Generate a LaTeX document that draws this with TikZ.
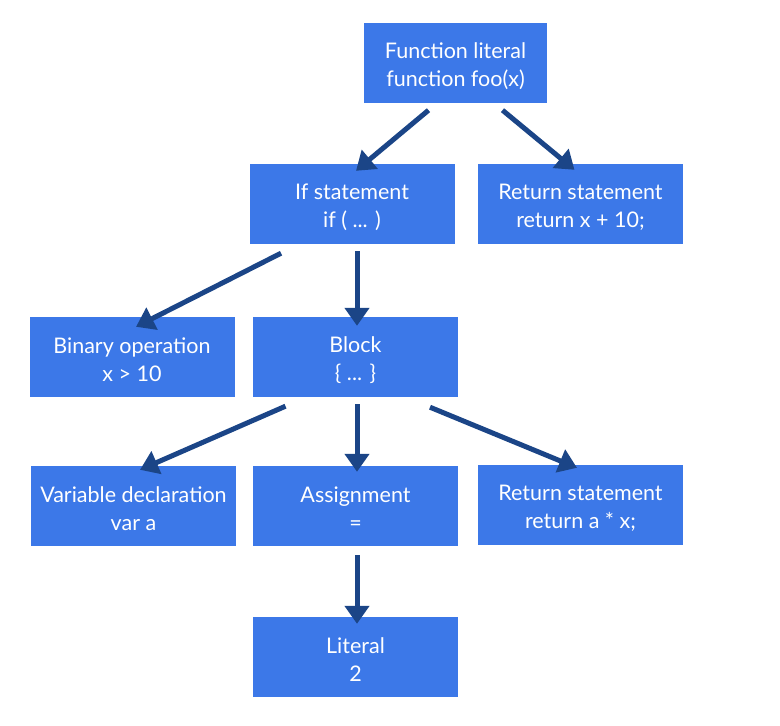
\documentclass[tikz,border=0pt]{standalone}
\usepackage{fontspec}
\setmainfont{Lato}
\usetikzlibrary{arrows.meta}
\definecolor{boxblue}{HTML}{3C78E8}
\definecolor{arrblue}{HTML}{1B4587}
\begin{document}
\begin{tikzpicture}[x=1pt,y=-1pt,
  box/.style={fill=boxblue,draw=none,minimum width=205pt,minimum height=80pt,inner sep=0pt},
  lbl/.style={text=white,align=center,inner sep=0pt,font=\fontsize{21.5}{28}\selectfont},
  arr/.style={draw=arrblue,line width=5pt,-{Triangle[width=24pt,length=18pt]}}]
\useasboundingbox (0,0) rectangle (780,726);
\newcommand\mybox[5]{%
  \node[box,minimum width=#3pt] (#1) at #2 {};
  \node[lbl] (#1-text) at ([yshift=-3pt]#1.center) {#4\\#5};}
\mybox{fn}{(455.5,63)}{183}{Function literal}{function foo(x)}
\mybox{if}{(352,204)}{205}{If statement}{if ( ... )}
\mybox{ret1}{(580.5,204)}{205}{Return statement}{return x + 10;}
\mybox{bin}{(132,357)}{205}{Binary operation}{x > 10}
\mybox{blk}{(355.5,357)}{205}{Block}{\{ ... \}}
\mybox{var}{(133.5,506)}{205}{Variable declaration}{var a}
\mybox{asg}{(355.5,506)}{205}{Assignment}{=}
\mybox{ret2}{(580.5,505)}{205}{Return statement}{return a * x;}
\mybox{lit}{(355.5,657)}{205}{Literal}{2}
\draw[arr] ([xshift=-27pt,yshift=-7pt]fn.south) -- ([xshift=4pt,yshift=-7pt]if.north);
\draw[arr] ([xshift=47pt,yshift=-7pt]fn.south) -- ([xshift=-6pt,yshift=-6pt]ret1.north);
\draw[arr] ([xshift=-71pt,yshift=-9pt]if.south) -- ([xshift=4pt,yshift=-10pt]bin.north);
\draw[arr] ([xshift=5pt,yshift=-7pt]if.south) -- ([xshift=1.5pt,yshift=-9pt]blk.north);
\draw[arr] ([xshift=-70pt,yshift=-9pt]blk.south) -- ([xshift=6.5pt,yshift=-4pt]var.north);
\draw[arr] ([xshift=1.5pt,yshift=-7pt]blk.south) -- ([xshift=1.5pt,yshift=-6pt]asg.north);
\draw[arr] ([xshift=74.5pt,yshift=-10pt]blk.south) -- ([xshift=-3.5pt,yshift=-3pt]ret2.north);
\draw[arr] ([xshift=1.5pt,yshift=-9pt]asg.south) -- ([xshift=1.5pt,yshift=-7pt]lit.north);
\end{tikzpicture}
\end{document}
